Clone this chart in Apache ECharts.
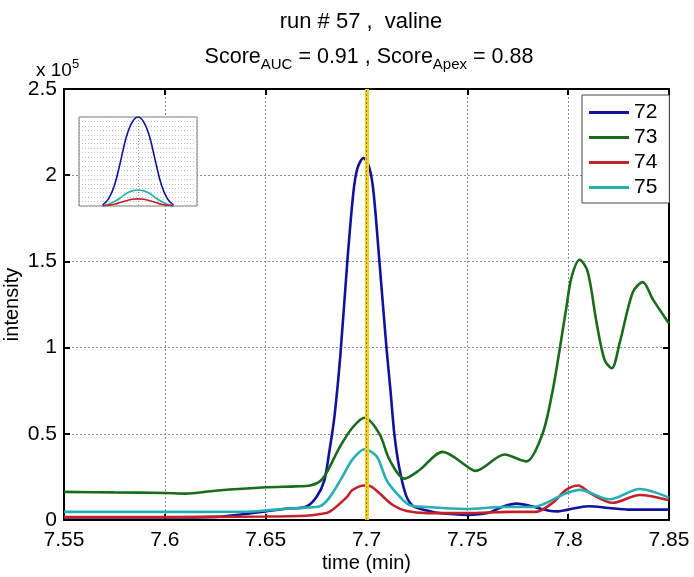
<!DOCTYPE html>
<html>
<head>
<meta charset="utf-8">
<script src="https://cdn.jsdelivr.net/npm/echarts@6/dist/echarts.min.js"></script>
<style>
html,body{margin:0;padding:0;background:#fff;}
#chart{width:694px;height:577px;}
</style>
</head>
<body>
<div id="chart"></div>
<script>
// ---- data ----
const seriesNames = ['72', '73', '74', '75'];
const seriesColors = ['#12129a', '#1a6b1a', '#c4222b', '#25afb2'];

const t72 = [7.55, 7.60, 7.625, 7.64, 7.65, 7.66, 7.67, 7.6753, 7.6791, 7.6816, 7.6841, 7.687, 7.6905, 7.6935, 7.6955, 7.6985, 7.7015, 7.7035, 7.7064, 7.7099, 7.7119, 7.7138, 7.7163, 7.7197, 7.7233, 7.73, 7.735, 7.75, 7.76, 7.7675, 7.7745, 7.78, 7.79, 7.795, 7.80, 7.81, 7.82, 7.83, 7.85];
const v72 = [1500, 1500, 1800, 3500, 5000, 6500, 7700, 13500, 23000, 40000, 60000, 95000, 150000, 190000, 204000, 210000, 204000, 190000, 150000, 100000, 75000, 50000, 30000, 14000, 8000, 5500, 4200, 3000, 4000, 7700, 9500, 8500, 5500, 5000, 6000, 8000, 7000, 6000, 6000];

const t73 = [7.55, 7.575, 7.60, 7.61, 7.625, 7.65, 7.665, 7.672, 7.6783, 7.6866, 7.693, 7.699, 7.7064, 7.7114, 7.7188, 7.7263, 7.7377, 7.7512, 7.754, 7.7685, 7.776, 7.7794, 7.7873, 7.7923, 7.7958, 7.7992, 7.8017, 7.8057, 7.8097, 7.814, 7.818, 7.8216, 7.8256, 7.832, 7.837, 7.842, 7.85];
const v73 = [16300, 16000, 15700, 15300, 17000, 19000, 19500, 20000, 24000, 42000, 53500, 59300, 50000, 35000, 24000, 29000, 39500, 30000, 28500, 38000, 35000, 34000, 50000, 75000, 99000, 124000, 141000, 151000, 144000, 115000, 93000, 88000, 103000, 132000, 138000, 128000, 114000];

const t74 = [7.55, 7.60, 7.65, 7.67, 7.677, 7.6816, 7.69, 7.693, 7.699, 7.7014, 7.7064, 7.713, 7.72, 7.73, 7.75, 7.771, 7.784, 7.7923, 7.799, 7.805, 7.811, 7.822, 7.8355, 7.85];
const v74 = [1700, 1700, 2000, 2500, 3500, 4700, 13000, 17400, 20000, 19800, 15500, 8700, 5200, 4000, 4000, 4700, 4700, 10000, 17500, 20000, 15500, 10000, 14500, 11500];

const t75 = [7.55, 7.60, 7.64, 7.65, 7.66, 7.67, 7.6766, 7.6816, 7.688, 7.693, 7.699, 7.705, 7.71, 7.715, 7.7213, 7.7297, 7.7496, 7.7675, 7.7824, 7.799, 7.8057, 7.8206, 7.8355, 7.85];
const v75 = [4700, 4700, 4800, 5500, 6500, 7200, 7800, 13000, 25000, 35000, 41000, 37000, 23000, 15500, 8700, 7500, 6400, 7500, 7500, 15500, 17500, 12000, 18000, 13000];

// inset (normalized peak shapes)
const insetX = [-0.6, -0.5, -0.4, -0.3, -0.2, -0.1, 0, 0.1, 0.2, 0.3, 0.4, 0.5, 0.6];
const inset72 = [0.01, 0.08, 0.23, 0.49, 0.77, 0.94, 1.0, 0.94, 0.77, 0.49, 0.23, 0.08, 0.01];
const inset74 = [0.0, 0.008, 0.02, 0.04, 0.06, 0.075, 0.08, 0.075, 0.06, 0.04, 0.02, 0.008, 0.0];
const inset75 = [0.0, 0.02, 0.05, 0.09, 0.14, 0.17, 0.18, 0.17, 0.14, 0.09, 0.05, 0.02, 0.0];

const apexTime = 7.7;
const xMin = 7.55, xMax = 7.85, xStep = 0.05;
const yMin = 0, yMax = 250000, yStep = 50000;

// ---- chart ----
const FONT = 'Liberation Sans, Arial, Helvetica, sans-serif';
const zip = (t, v) => t.map((x, i) => [x, v[i]]);
const mainData = [zip(t72, v72), zip(t73, v73), zip(t74, v74), zip(t75, v75)];
const insetData = {0: inset72, 2: inset74, 3: inset75};

const chart = echarts.init(document.getElementById('chart'));

const series = [];
mainData.forEach((d, i) => {
  series.push({
    name: seriesNames[i], type: 'line', xAxisIndex: 0, yAxisIndex: 0,
    data: d, showSymbol: false, symbol: 'none', smooth: 0.3,
    lineStyle: {color: seriesColors[i], width: 2.6}, itemStyle: {color: seriesColors[i]},
    z: 2, animation: false
  });
});
series.push({
  type: 'line', xAxisIndex: 0, yAxisIndex: 0, data: [], z: 5, silent: true, animation: false,
  markLine: {
    symbol: 'none', silent: true, animation: false, label: {show: false},
    data: [
      {xAxis: apexTime, lineStyle: {color: '#f6d21a', width: 4, type: 'solid'}},
      {xAxis: apexTime, lineStyle: {color: '#8a7a40', width: 1, type: [2, 2]}}
    ]
  }
});
[0, 3, 2].forEach(i => {
  series.push({
    type: 'line', xAxisIndex: 2, yAxisIndex: 2, z: 12,
    data: insetX.map((x, k) => [x, insetData[i][k]]),
    showSymbol: false, symbol: 'none', smooth: 0.4, silent: true, animation: false,
    lineStyle: {color: seriesColors[i], width: 1.6}
  });
});

const tickLabel = {color: '#000', fontFamily: FONT, fontSize: 21};

chart.setOption({
  backgroundColor: '#fff',
  animation: false,
  title: [
    {text: 'run # 57 ,  valine', left: 356, top: 6, textAlign: 'center',
     textStyle: {fontFamily: FONT, fontSize: 22, fontWeight: 'normal', color: '#000'}},
    {text: 'Score{sub|AUC} = 0.91 , Score{sub|Apex} = 0.88', left: 364, top: 38, textAlign: 'center',
     textStyle: {fontFamily: FONT, fontSize: 21.5, fontWeight: 'normal', color: '#000',
       rich: {sub: {fontFamily: FONT, fontSize: 15, color: '#000', verticalAlign: 'bottom', padding: [14, 0, 0, 0]}}}}
  ],
  graphic: [
    {type: 'text', left: 36, top: 58, z: 20,
     style: {text: 'x 10{sup|5}', font: '19px ' + FONT, fill: '#000',
       rich: {sup: {fontSize: 13, fontFamily: FONT, fill: '#000', verticalAlign: 'top', padding: [0, 0, 12, 0]}}}}
  ],
  legend: {
    data: seriesNames, orient: 'vertical', left: 582, top: 95,
    icon: 'rect',
    backgroundColor: '#fff', borderColor: '#444', borderWidth: 1, borderRadius: 0,
    padding: [7, 12, 5, 7], itemWidth: 40, itemHeight: 3, itemGap: 4,
    textStyle: {fontFamily: FONT, fontSize: 21, color: '#000'}, selectedMode: false
  },
  grid: [
    {left: 64, right: 25, top: 89, bottom: 57, show: false, containLabel: false, outerBoundsMode: 'none'},
    {left: 79, top: 117, width: 118, height: 89, show: true, backgroundColor: '#fff',
     borderColor: '#777', borderWidth: 1, z: 10, containLabel: false, outerBoundsMode: 'none'}
  ],
  xAxis: [
    {type: 'value', gridIndex: 0, min: xMin, max: xMax, interval: xStep,
     name: 'time (min)', nameLocation: 'middle', nameGap: 33, nameMoveOverlap: false,
     nameTextStyle: {fontFamily: FONT, fontSize: 20, color: '#000'},
     axisLine: {show: true, onZero: false, lineStyle: {color: '#000', width: 2}},
     axisTick: {show: true, inside: true, length: 6, lineStyle: {color: '#000', width: 2}},
     axisLabel: Object.assign({margin: 10, formatter: v => String(parseFloat(v.toFixed(2)))}, tickLabel),
     splitLine: {show: true, lineStyle: {color: '#8a8a8a', width: 1, type: [2, 2]}}},
    {type: 'value', gridIndex: 0, position: 'top', min: xMin, max: xMax, interval: xStep,
     axisLine: {show: true, onZero: false, lineStyle: {color: '#000', width: 2}},
     axisTick: {show: true, inside: true, length: 6, lineStyle: {color: '#000', width: 2}},
     axisLabel: {show: false}, splitLine: {show: false}},
    {type: 'value', gridIndex: 1, min: -1, max: 1, interval: 1, z: 11,
     axisLine: {show: false}, axisTick: {show: false}, axisLabel: {show: false},
     splitLine: {show: true, lineStyle: {color: '#9a9a9a', width: 1, type: [1, 2]}}}
  ],
  yAxis: [
    {type: 'value', gridIndex: 0, min: yMin, max: yMax, interval: yStep,
     name: 'intensity', nameLocation: 'middle', nameGap: 42, nameRotate: 90, nameMoveOverlap: false,
     nameTextStyle: {fontFamily: FONT, fontSize: 20, color: '#000'},
     axisLine: {show: true, onZero: false, lineStyle: {color: '#000', width: 2}},
     axisTick: {show: true, inside: true, length: 6, lineStyle: {color: '#000', width: 2}},
     axisLabel: Object.assign({margin: 7, formatter: v => String(v / 1e5)}, tickLabel),
     splitLine: {show: true, lineStyle: {color: '#8a8a8a', width: 1, type: [2, 2]}}},
    {type: 'value', gridIndex: 0, position: 'right', min: yMin, max: yMax, interval: yStep,
     axisLine: {show: true, onZero: false, lineStyle: {color: '#000', width: 2}},
     axisTick: {show: true, inside: true, length: 6, lineStyle: {color: '#000', width: 2}},
     axisLabel: {show: false}, splitLine: {show: false}},
    {type: 'value', gridIndex: 1, min: 0, max: 1, interval: 0.05, z: 11,
     axisLine: {show: false}, axisTick: {show: false}, axisLabel: {show: false},
     splitLine: {show: true, lineStyle: {color: '#c4c4c4', width: 1, type: [1, 2]}}}
  ],
  series: series
});
</script>
</body>
</html>
